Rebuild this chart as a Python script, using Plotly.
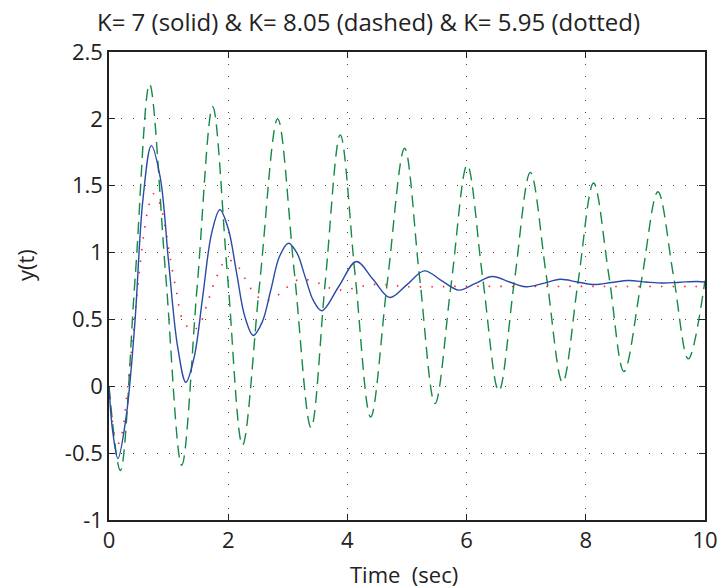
import plotly.graph_objects as go

# ---- data ----
# K = 7 (solid)
t_solid = [0, 0.06, 0.15, 0.29, 0.43, 0.57, 0.71, 0.86, 1.00, 1.15, 1.29, 1.43, 1.575, 1.72, 1.86,
           2.00, 2.14, 2.28, 2.42, 2.57, 2.715, 2.86, 3.01, 3.15, 3.29, 3.43, 3.57,
           3.86, 4.15, 4.43, 4.71, 5.00, 5.29, 5.58, 5.87, 6.15, 6.43, 6.72, 7.00, 7.29, 7.57,
           7.86, 8.15, 8.43, 8.72, 9.01, 9.30, 9.58, 9.87, 10.0]
y_solid = [0, -0.33, -0.54, -0.22, 0.45, 1.40, 1.80, 1.56, 0.93, 0.30, 0.03, 0.22, 0.68, 1.14, 1.32,
           1.18, 0.85, 0.52, 0.38, 0.48, 0.72, 0.97, 1.07, 1.00, 0.82, 0.64, 0.565,
           0.75, 0.933, 0.80, 0.664, 0.76, 0.863, 0.79, 0.719, 0.77, 0.821, 0.78, 0.744, 0.77, 0.80,
           0.78, 0.761, 0.776, 0.791, 0.78, 0.772, 0.778, 0.784, 0.780]

# K = 8.05 (dashed)
t_dashed = [0, 0.19, 0.44, 0.68, 0.95, 1.22, 1.48, 1.74, 1.99, 2.24, 2.53, 2.83, 3.11, 3.39,
            3.63, 3.88, 4.13, 4.39, 4.67, 4.96, 5.21, 5.47, 5.74, 6.01, 6.27, 6.54, 6.80, 7.07,
            7.34, 7.61, 7.87, 8.13, 8.39, 8.64, 8.93, 9.21, 9.47, 9.72, 10.0]
y_dashed = [0, -0.63, 0.82, 2.26, 0.84, -0.59, 0.75, 2.09, 0.82, -0.44, 0.78, 2.00, 0.85, -0.31,
            0.79, 1.88, 0.83, -0.23, 0.78, 1.78, 0.82, -0.13, 0.76, 1.655, 0.81, -0.035, 0.78, 1.60,
            0.82, 0.03, 0.78, 1.52, 0.82, 0.11, 0.78, 1.455, 0.83, 0.205, 0.79]

# K = 5.95 (dotted)
t_dotted = [0, 0.04, 0.096, 0.17, 0.225, 0.32, 0.40, 0.46, 0.52, 0.595, 0.667, 0.75, 0.85, 0.94,
            1.03, 1.14, 1.22, 1.39, 1.51, 1.65, 1.78, 1.97, 2.14, 2.25, 2.46, 2.63, 2.80, 2.95,
            3.20, 3.49, 3.67, 3.85, 4.03, 4.21, 4.41, 4.60, 4.81, 5.0, 5.5, 6.0, 7.0, 8.0, 9.0, 10.0]
y_dotted = [0, -0.18, -0.37, -0.425, -0.34, 0.02, 0.366, 0.64, 0.90, 1.17, 1.35, 1.44, 1.37, 1.20,
            0.95, 0.69, 0.515, 0.42, 0.453, 0.62, 0.79, 0.945, 0.91, 0.83, 0.684, 0.64, 0.67, 0.727,
            0.80, 0.776, 0.74, 0.72, 0.727, 0.744, 0.761, 0.761, 0.753, 0.745, 0.745, 0.748, 0.746,
            0.747, 0.746, 0.746]

x_ticks = [0, 2, 4, 6, 8, 10]
y_ticks = [-1, -0.5, 0, 0.5, 1, 1.5, 2, 2.5]
y_ticklabels = ["-1", "-0.5", "0", "0.5", "1", "1.5", "2", "2.5"]

title_text = "K= 7 (solid) & K= 8.05 (dashed) & K= 5.95 (dotted)"
xlabel = "Time\u00a0 (sec)"
ylabel = "y(t)"

FONT = "Open Sans"
TXT = "#222"

W, H = 719, 588
L, T, PW, PH = 109, 52, 596, 468

fig = go.Figure()
fig.add_trace(go.Scatter(x=t_dashed, y=y_dashed, mode="lines",
                         line=dict(color="#138a45", width=1.4, dash="12px,7px", shape="spline", smoothing=1.0),
                         showlegend=False))
fig.add_trace(go.Scatter(x=t_dotted, y=y_dotted, mode="lines",
                         line=dict(color="#ff2020", width=1.6, dash="1.5px,10px", shape="spline", smoothing=1.0),
                         showlegend=False))
fig.add_trace(go.Scatter(x=t_solid, y=y_solid, mode="lines",
                         line=dict(color="#2a4aa6", width=1.4, shape="spline", smoothing=1.0),
                         showlegend=False))

axis_common = dict(showline=True, linecolor="#222", linewidth=1.5, mirror="ticks",
                   ticks="inside", ticklen=6, tickcolor="#222", tickwidth=1,
                   showgrid=True, gridcolor="#444", gridwidth=1, griddash="1px,11px",
                   zeroline=False, automargin=False,
                   tickfont=dict(family=FONT, size=22, color=TXT))

fig.update_xaxes(range=[0, 10], tickvals=x_ticks, ticktext=[str(v) for v in x_ticks], **axis_common)
fig.update_yaxes(range=[-1, 2.5], tickvals=y_ticks, ticktext=y_ticklabels, **axis_common)

fig.update_layout(
    width=W, height=H,
    margin=dict(l=L, r=W - L - PW, t=T, b=H - T - PH, autoexpand=False),
    paper_bgcolor="white", plot_bgcolor="white",
    font=dict(family=FONT, color=TXT),
    title=dict(text=title_text, x=368.5 / W, xref="container", xanchor="center",
               y=1 - 23 / H, yref="container", yanchor="middle",
               font=dict(family=FONT, size=24, color=TXT)),
    annotations=[
        dict(text=xlabel, xref="paper", yref="paper", x=(404 - L) / PW, y=(T + PH - 574) / PH,
             xanchor="center", yanchor="middle", showarrow=False,
             font=dict(family=FONT, size=22, color=TXT)),
        dict(text=ylabel, xref="paper", yref="paper", x=(25 - L) / PW, y=(T + PH - 265) / PH,
             xanchor="center", yanchor="middle", showarrow=False, textangle=-90,
             font=dict(family=FONT, size=22, color=TXT)),
    ],
)

fig.write_html("out.html", config={"displayModeBar": False},
               post_script="document.body.style.margin='0';document.body.style.overflow='hidden';")
